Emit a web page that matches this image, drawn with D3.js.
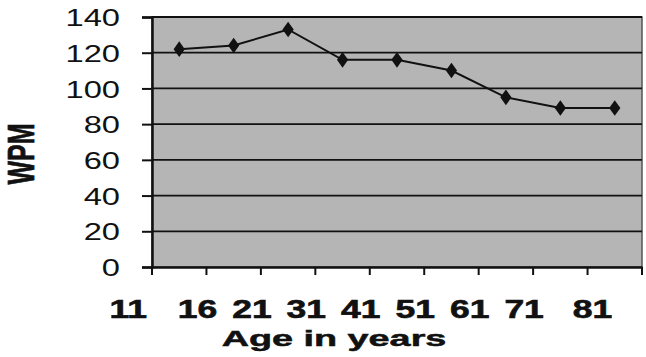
<!DOCTYPE html>
<html>
<head>
<meta charset="utf-8">
<script src="https://cdn.jsdelivr.net/npm/d3@7"></script>
<style>
  html, body { margin: 0; padding: 0; background: #fff; }
  svg { display: block; }
  text { font-family: Arial, "Liberation Sans", sans-serif; fill: #111; }
</style>
</head>
<body>
<svg id="chart" width="646" height="357"></svg>
<script>
// Typing speed by age group
const ageGroups = ["11", "16", "21", "31", "41", "51", "61", "71", "81"];
const wpm = [122, 124, 133, 116, 116, 110, 95, 89, 89];
const yTicks = [0, 20, 40, 60, 80, 100, 120, 140];

const plot = { left: 152, right: 642, top: 17, bottom: 267 };
const stretch = 1.42; // wide glyph rendering of the chart text

const svg = d3.select("#chart");

const x = d3.scaleBand().domain(ageGroups).range([plot.left, plot.right]);
const y = d3.scaleLinear().domain([0, 140]).range([plot.bottom, plot.top]);

// plot area background
svg.append("rect")
  .attr("x", plot.left).attr("y", plot.top)
  .attr("width", plot.right - plot.left).attr("height", plot.bottom - plot.top)
  .attr("fill", "#b5b5b5")
  .attr("stroke", "#555").attr("stroke-width", 1.5);

// horizontal gridlines
svg.append("g").selectAll("line")
  .data(yTicks.filter(d => d > 0))
  .join("line")
  .attr("x1", plot.left).attr("x2", plot.right)
  .attr("y1", d => y(d)).attr("y2", d => y(d))
  .attr("stroke", "#111").attr("stroke-width", 1.8);

// y axis
const yAxis = svg.append("g")
  .attr("transform", `translate(${plot.left},0)`)
  .call(d3.axisLeft(y).tickValues(yTicks).tickSize(10).tickFormat(""));
yAxis.select(".domain").attr("stroke", "#111").attr("stroke-width", 2.5);
yAxis.selectAll(".tick line").attr("stroke", "#111").attr("stroke-width", 2);

svg.append("g").selectAll("text")
  .data(yTicks)
  .join("text")
  .attr("text-anchor", "end")
  .attr("dominant-baseline", "central")
  .attr("font-size", 23)
  .attr("transform", d => `translate(120,${y(d) + 1}) scale(${stretch},1)`)
  .text(d => d);

// x axis: ticks on band boundaries
const xAxis = svg.append("g")
  .attr("transform", `translate(0,${plot.bottom})`)
  .call(d3.axisBottom(x).tickSize(0).tickFormat(""));
xAxis.select(".domain").attr("stroke", "#111").attr("stroke-width", 2.5);
xAxis.selectAll(".tick").remove();
const bounds = ageGroups.map(d => x(d)).concat([plot.right]);
xAxis.selectAll("line.bt")
  .data(bounds)
  .join("line")
  .attr("class", "bt")
  .attr("x1", d => d).attr("x2", d => d)
  .attr("y1", 0).attr("y2", 8)
  .attr("stroke", "#111").attr("stroke-width", 2);

// category labels, set near the left boundary of each band
const last = ageGroups.length - 1;
svg.append("g").selectAll("text")
  .data(ageGroups)
  .join("text")
  .attr("text-anchor", (d, i) => i === 0 ? "end" : "middle")
  .attr("font-size", 25)
  .attr("font-weight", "bold")
  .attr("stroke", "#111").attr("stroke-width", 0.6)
  .attr("transform", (d, i) => {
    const px = i === 0 ? x(d) - 5 : i === last ? x(d) + 5 : x(d) - 9;
    return `translate(${px},318) scale(${stretch},1)`;
  })
  .text(d => d);

// axis titles
svg.append("text")
  .attr("text-anchor", "middle")
  .attr("font-size", 22.5)
  .attr("font-weight", "bold")
  .attr("stroke", "#111").attr("stroke-width", 0.5)
  .attr("transform", `translate(334,346) scale(1.68,1)`)
  .text("Age in years");

svg.append("text")
  .attr("text-anchor", "middle")
  .attr("font-size", 25)
  .attr("font-weight", "bold")
  .attr("stroke", "#111").attr("stroke-width", 0.5)
  .attr("transform", `translate(34,154) scale(1.5,1) rotate(-90)`)
  .text("WPM");

// series line and markers
const cx = d => x(d) + x.bandwidth() / 2;
const line = d3.line()
  .x((d, i) => cx(ageGroups[i]))
  .y(d => y(d));

svg.append("path")
  .datum(wpm)
  .attr("d", line)
  .attr("fill", "none")
  .attr("stroke", "#111")
  .attr("stroke-width", 2);

svg.append("g").selectAll("path")
  .data(wpm)
  .join("path")
  .attr("d", d3.symbol().type(d3.symbolDiamond).size(70))
  .attr("transform", (d, i) => `translate(${cx(ageGroups[i])},${y(d)}) scale(1.25,1)`)
  .attr("fill", "#111");
</script>
</body>
</html>
